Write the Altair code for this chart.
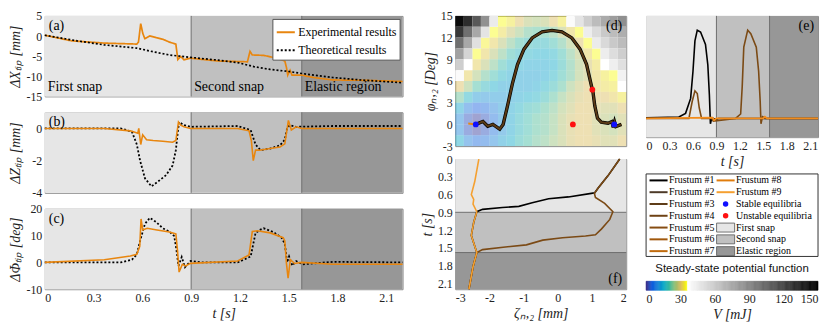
import altair as alt
import pandas as pd

SERIF = "Liberation Serif"
SANS = "Liberation Sans"

# ---------------- shared categories ----------------
region_names = ["First snap", "Second snap", "Elastic region"]
region_start = [0.0, 0.9, 1.58]
region_end = [0.9, 1.58, 2.2]
region_colors = ["#e6e6e6", "#c0c0c0", "#979797"]
snap_bounds = [0.9, 1.58]
t_ticks = [0, 0.3, 0.6, 0.9, 1.2, 1.5, 1.8, 2.1]
series_names = ["Experimental results", "Theoretical results"]

# ---------------- panel (a): Delta X tip ----------------
a_exp_t = [0, 0.166, 0.366, 0.566, 0.576, 0.59, 0.602, 0.615, 0.646, 0.686, 0.726, 0.766, 0.806, 0.812,
           0.818, 0.836, 0.856, 0.896, 1.066, 1.246, 1.262, 1.276, 1.346, 1.426, 1.476, 1.486, 1.494,
           1.508, 1.52, 1.58, 1.65, 1.77, 1.97, 2.2]
a_exp_v = [0.2, -1.2, -1.75, -2.0, -1.5, 3.1, 0.74, -0.65, 0.04, -0.4, -0.8, -1.5, -2.0, -3.9,
           -5.85, -5.1, -5.9, -5.5, -6.2, -6.4, -3.8, -4.7, -4.8, -5.5, -6.2, -7.8, -9.7,
           -8.5, -9.7, -9.7, -10.3, -10.9, -11.0, -11.3]
a_th_t = [0, 0.2, 0.366, 0.566, 0.666, 0.766, 0.896, 1.066, 1.186, 1.286, 1.386, 1.5, 1.58, 1.77, 1.97, 2.2]
a_th_v = [0.2, -1.2, -2.2, -3.0, -3.9, -4.7, -5.3, -6.0, -6.6, -7.6, -8.3, -8.8, -9.3, -10.3, -11.0, -11.6]

# ---------------- panel (b): Delta Z tip ----------------
b_exp_t = [0, 0.366, 0.526, 0.572, 0.578, 0.59, 0.602, 0.626, 0.666, 0.726, 0.786, 0.806, 0.822, 0.836,
           0.856, 0.896, 1.186, 1.256, 1.27, 1.282, 1.296, 1.32, 1.386, 1.446, 1.476, 1.498, 1.516,
           1.546, 1.58, 2.2]
b_exp_v = [0, 0, -0.15, -0.3, 0.0, -1.0, -0.4, -0.7, -0.75, -0.8, -0.86, -0.75, 0.4, 0.2,
           0.1, 0, 0, -0.15, -0.75, -2.0, -1.35, -1.35, -1.25, -1.15, -0.96, 0.5, -0.1,
           0.1, 0, 0]
b_th_t = [0, 0.466, 0.536, 0.566, 0.586, 0.616, 0.656, 0.696, 0.746, 0.786, 0.806, 0.818, 0.826, 0.856,
          0.896, 1.186, 1.266, 1.296, 1.326, 1.386, 1.446, 1.476, 1.49, 1.506, 1.546, 1.77, 2.2]
b_th_v = [0, 0, -0.2, -1.0, -2.0, -3.1, -3.6, -3.3, -2.9, -2.3, -1.35, -0.2, 0.4, 0.2,
          0.1, 0.15, -0.1, -1.0, -1.35, -1.25, -1.05, -0.7, 0, 0.2, 0.1, 0.15, 0.15]

# ---------------- panel (c): Delta Phi tip ----------------
c_exp_t = [0, 0.366, 0.526, 0.566, 0.584, 0.592, 0.602, 0.63, 0.69, 0.766, 0.806, 0.816, 0.826, 0.846,
           0.866, 0.896, 1.186, 1.256, 1.276, 1.306, 1.386, 1.466, 1.476, 1.486, 1.496, 1.51, 1.536,
           1.58, 1.77, 2.2]
c_exp_v = [0, 1.0, 2.4, 3.0, 6.0, 16.2, 12.1, 12.7, 12.1, 11.3, 10.6, 4.5, -3.6, -0.7,
           -1.3, -0.35, 0.5, 2.8, 11.5, 11.8, 11.0, 9.2, 8.0, -0.35, -5.9, 1.0, -0.4,
           0, -0.7, -0.7]
c_th_t = [0, 0.466, 0.536, 0.566, 0.586, 0.616, 0.646, 0.686, 0.726, 0.766, 0.796, 0.81, 0.822, 0.842,
          0.862, 0.896, 0.966, 1.186, 1.266, 1.296, 1.326, 1.346, 1.406, 1.456, 1.476, 1.49, 1.502,
          1.522, 1.546, 1.586, 1.77, 2.2]
c_th_v = [0, 0, 1.0, 3.0, 8.0, 14.4, 16.6, 15.0, 12.7, 11.5, 9.8, 4.5, -1.3, 2.0,
          -1.8, 0.5, 0, 0, 2.2, 11.0, 12.2, 12.7, 11.3, 9.2, 6.9, 0, 2.2,
          -1.2, 0.5, -0.7, 0.2, 0]

# ---------------- panel (d): potential map + trajectory ----------------
zeta_centers = [-2.875, -2.625, -2.375, -2.125, -1.875, -1.625, -1.375, -1.125, -0.875, -0.625,
                -0.375, -0.125, 0.125, 0.375, 0.625, 0.875, 1.125, 1.375, 1.625, 1.875]
phi_centers = [14.25, 12.75, 11.25, 9.75, 8.25, 6.75, 5.25, 3.75, 2.25, 0.75, -0.75, -2.25]
V_grid = [
    [145, 130, 110, 85, 45, 35, 33, 30, 27, 26, 27, 30, 33, 38, 48, 58, 66, 74, 80, 86],
    [125, 100, 75, 48, 35, 32, 28, 25, 22, 21, 21, 23, 27, 31, 35, 44, 52, 60, 66, 72],
    [100, 75, 50, 34, 31, 27, 23, 20, 18, 17, 17, 19, 22, 26, 30, 35, 45, 53, 60, 66],
    [78, 55, 35, 31, 27, 23, 19, 17, 16, 15, 15, 16, 19, 23, 27, 31, 35, 44, 51, 58],
    [58, 36, 31, 27, 23, 19, 16, 15, 14, 14, 14, 15, 18, 22, 26, 29, 32, 36, 43, 50],
    [38, 31, 26, 22, 19, 16, 14, 13, 13, 13, 14, 16, 19, 22, 26, 28, 31, 33, 35, 42],
    [30, 25, 20, 17, 15, 13, 13, 13, 13, 14, 16, 18, 21, 25, 28, 30, 31, 32, 33, 36],
    [22, 16, 12, 11, 12, 12, 13, 14, 15, 16, 18, 21, 24, 27, 29, 30, 30, 30, 31, 33],
    [14, 8, 5, 6, 9, 12, 14, 16, 18, 19, 21, 23, 26, 28, 30, 30, 29, 28, 28, 30],
    [10, 3, 1, 3, 7, 11, 14, 17, 19, 21, 22, 24, 27, 29, 30, 30, 28, 27, 26, 28],
    [10, 3, 1, 3, 7, 11, 14, 17, 19, 21, 22, 24, 27, 29, 30, 30, 28, 27, 26, 28],
    [15, 9, 6, 7, 10, 13, 15, 18, 20, 22, 23, 25, 27, 29, 30, 30, 29, 28, 28, 30],
]
traj_zeta = [-2.4, -2.19, -2.05, -1.9, -1.7, -1.6, -1.47, -1.33, -1.18, -0.99, -0.75, -0.46, -0.17,
             0.12, 0.41, 0.65, 0.84, 0.97, 1.03, 1.08, 1.16, 1.27, 1.47, 1.58, 1.62, 1.66, 1.70, 1.86]
traj_phi = [0, 0.4, -0.25, 0, -0.65, 0, 2.6, 5.6, 8.26, 10.4, 11.96, 12.8, 13.0,
            12.8, 11.96, 10.4, 8.3, 5.6, 4.4, 2.6, 0.85, 0.3, 0.17, 0.4, -0.4, 0.35, -0.3, 0.0]
start_zeta = [-2.62, -2.4]
start_phi = [0.14, 0.0]
stable_zeta = [-2.4, 1.65]
stable_phi = [0.0, 0.0]
unstable_zeta = [0.44, 1.01]
unstable_phi = [0.0, 4.8]

# ---------------- panel (e): energy-like traces ----------------
e1_t = [0, 0.42, 0.505, 0.57, 0.60, 0.625, 0.655, 0.697, 0.76, 0.79, 0.81, 0.823, 0.84, 0.886, 0.93, 2.2]
e1_v = [0.007, 0.017, 0.057, 0.225, 0.53, 0.87, 0.99, 0.97, 0.83, 0.6, 0.26, -0.06, 0.007, -0.01, 0, 0]
e2_t = [0, 0.548, 0.59, 0.625, 0.655, 0.68, 0.71, 0.84, 0.86, 1.145, 1.21, 1.23, 1.25, 1.3, 1.34, 1.41,
        1.44, 1.46, 1.47, 1.49, 1.53, 2.2]
e2_v = [0, 0, 0.19, 0.31, 0.28, 0.12, 0, 0, -0.03, 0, 0.05, 0.36, 0.8, 0.99, 0.95, 0.8,
        0.53, 0.19, -0.06, 0.02, 0, 0]
e9_t = [0, 0.85, 0.87, 0.9, 1.5, 1.52, 1.55, 2.2]
e9_v = [0, 0.01, -0.02, 0, 0, 0.02, 0, 0]

# ---------------- panel (f): zeta vs time ----------------
f1_t = [0, 0.28, 0.49, 0.57, 0.58, 0.64, 0.67, 0.74, 0.80, 0.82, 0.85, 0.89, 1.07, 1.29, 1.42, 1.58, 1.82, 2.2]
f1_z = [1.81, 1.47, 1.18, 1.08, 0.98, 0.31, -0.27, -0.75, -1.14, -1.62, -2.2, -2.37, -2.46, -2.53, -2.46,
        -2.37, -2.48, -2.6]
f2_t = [0, 0.28, 0.49, 0.58, 0.65, 0.75, 0.89, 1.02, 1.18, 1.28, 1.30, 1.33, 1.37, 1.45, 1.49, 1.53, 1.58,
        1.82, 2.2]
f2_z = [1.81, 1.47, 1.18, 1.07, 1.10, 1.37, 1.61, 1.52, 1.28, 1.10, 0.81, 0.14, -0.44, -0.92, -1.6, -2.2,
        -2.37, -2.48, -2.6]
f9_t = [0, 0.38, 0.6, 0.68, 0.76, 0.89, 1.07, 1.29, 1.42, 1.58, 1.82, 2.2]
f9_z = [-2.31, -2.43, -2.53, -2.46, -2.48, -2.37, -2.46, -2.53, -2.46, -2.37, -2.48, -2.6]

# ---------------- legend / colorbar ----------------
frustum_names = ["Frustum #1", "Frustum #2", "Frustum #3", "Frustum #4", "Frustum #5",
                 "Frustum #6", "Frustum #7", "Frustum #8", "Frustum #9"]
frustum_colors = ["#000000", "#4d3a28", "#5e3c18", "#6e4214", "#864c12", "#a0570c", "#c06a0c",
                  "#e07c0c", "#f5a030"]
equil_names = ["Stable equilibria", "Unstable equilibria"]
equil_colors = ["#1010ff", "#ff1010"]
V_ticks = [0, 30, 60, 90, 120, 150]
V_stops = [0, 5, 10, 15, 20, 25, 30, 35, 36, 150]
V_stop_colors = ["#352a87", "#0f5cdd", "#1481d6", "#06a7c6", "#38b99e", "#92bf73", "#d9ba56",
                 "#f9fb0e", "#ffffff", "#000000"]

ORANGE = "#E8860F"
BROWN = "#7b4a15"

# ---------------- layout sizes ----------------
W1, H1 = 360, 81
W2, H2 = 172, 131
W3, HE = 173, 122
HL = 95
LEG_TOP = 12

MINUS_FIX = "replace(datum.label, '\u2212', '-')"
T_LABEL = "datum.value == 0 ? '0' : format(datum.value, '.1f')"

regions_df = pd.DataFrame({"name": region_names, "start": region_start, "end": region_end})
bounds_df = pd.DataFrame({"b": snap_bounds})


def t_scale(rev=False):
    return alt.Scale(domain=[0, 2.2], nice=False, zero=False, reverse=rev)


def V_scale():
    return alt.Scale(domain=V_stops, range=V_stop_colors, interpolate="rgb")


def region_fill():
    return alt.Fill("name:N", scale=alt.Scale(domain=region_names, range=region_colors), legend=None)


def tag(label, x, y, align, baseline, color="black"):
    return alt.Chart(pd.DataFrame({"lab": [label]})).mark_text(
        align=align, baseline=baseline, font=SERIF, fontSize=14, color=color
    ).encode(x=alt.value(x), y=alt.value(y), text="lab:N")


def time_panel(xaxis_fn, yenc_fn, lines, label):
    reg = alt.Chart(regions_df).mark_rect().encode(
        x=alt.X("start:Q", scale=t_scale(), axis=xaxis_fn()), x2="end:Q", fill=region_fill())
    rules = alt.Chart(bounds_df).mark_rule(color="#6e6e6e", strokeWidth=1).encode(
        x=alt.X("b:Q", scale=t_scale(), axis=xaxis_fn()))
    layers = [reg, rules] + lines(xaxis_fn, yenc_fn) + [tag(label, 4, 3, "left", "top")]
    return alt.layer(*layers)


def no_axis():
    return None


def t_axis():
    return alt.Axis(values=t_ticks, labelExpr=T_LABEL, title="t [s]")


def simple_lines(t1, v1, t2, v2, yfn, xaxis_fn):
    df1 = pd.DataFrame({"t": t1, "v": v1})
    df2 = pd.DataFrame({"t": t2, "v": v2})
    l1 = alt.Chart(df1).mark_line(color=ORANGE, strokeWidth=1.6).encode(
        x=alt.X("t:Q", scale=t_scale(), axis=xaxis_fn()), y=yfn())
    l2 = alt.Chart(df2).mark_line(color="black", strokeWidth=1.8, strokeDash=[2, 2]).encode(
        x=alt.X("t:Q", scale=t_scale(), axis=xaxis_fn()), y=yfn())
    return [l2, l1]


# ----- (a)
def ya():
    return alt.Y("v:Q", scale=alt.Scale(domain=[-15, 5], nice=False),
                 axis=alt.Axis(values=[-15, -10, -5, 0, 5], labelExpr=MINUS_FIX,
                               title="ΔXₜᵢₚ [mm]", titleX=-22))


df_a = pd.concat([
    pd.DataFrame({"t": a_exp_t, "v": a_exp_v, "series": series_names[0]}),
    pd.DataFrame({"t": a_th_t, "v": a_th_v, "series": series_names[1]}),
])
leg_a = alt.Legend(orient="top-right", title=None, fillColor="white", strokeColor="#555",
                   padding=3, offset=3, labelFont=SERIF, labelFontSize=12, symbolType="stroke",
                   symbolStrokeWidth=2, symbolSize=330, rowPadding=1, labelOffset=2)


def a_lines(xaxis_fn, yfn):
    ln = alt.Chart(df_a).mark_line(strokeWidth=1.7).encode(
        x=alt.X("t:Q", scale=t_scale(), axis=xaxis_fn()), y=yfn(),
        color=alt.Color("series:N", scale=alt.Scale(domain=series_names, range=[ORANGE, "black"]),
                        legend=leg_a),
        strokeDash=alt.StrokeDash("series:N", scale=alt.Scale(domain=series_names, range=[[1, 0], [2, 2]]),
                                  legend=leg_a),
        order=alt.Order("series:N", sort="descending"),
    )
    txt = alt.Chart(regions_df).mark_text(align="left", baseline="bottom", dx=3, dy=-2, font=SERIF,
                                          fontSize=14, color="black").encode(
        x=alt.X("start:Q", scale=t_scale(), axis=xaxis_fn()), y=alt.value(H1), text="name:N")
    return [ln, txt]


pa = time_panel(no_axis, ya, a_lines, "(a)").properties(width=W1, height=H1)


# ----- (b)
def yb():
    return alt.Y("v:Q", scale=alt.Scale(domain=[-4, 1], nice=False),
                 axis=alt.Axis(values=[-4, -2, 0], labelExpr=MINUS_FIX, title="ΔZₜᵢₚ [mm]", titleX=-22))


pb = time_panel(no_axis, yb, lambda xf, yf: simple_lines(b_exp_t, b_exp_v, b_th_t, b_th_v, yf, xf),
                "(b)").properties(width=W1, height=H1)


# ----- (c)
def yc():
    return alt.Y("v:Q", scale=alt.Scale(domain=[-10, 20], nice=False),
                 axis=alt.Axis(values=[-10, 0, 10, 20], labelExpr=MINUS_FIX, title="ΔΦₜᵢₚ [deg]",
                               titleX=-22))


pc = time_panel(t_axis, yc, lambda xf, yf: simple_lines(c_exp_t, c_exp_v, c_th_t, c_th_v, yf, xf),
                "(c)").properties(width=W1, height=H1)

# ----- (d)
cells = []
for i, p in enumerate(phi_centers):
    for j, z in enumerate(zeta_centers):
        cells.append({"z0": z - 0.125, "z1": z + 0.125, "p0": p - 0.75, "p1": p + 0.75, "V": V_grid[i][j]})
cells_df = pd.DataFrame(cells)


def zx(axis):
    return alt.X("z0:Q", scale=alt.Scale(domain=[-3, 2], nice=False, zero=False), axis=axis)


def d_y():
    return alt.Axis(values=[-3, 0, 3, 6, 9, 12, 15], labelExpr=MINUS_FIX, title="φₙ,₂ [Deg]")


def phi_scale():
    return alt.Scale(domain=[-3, 15], nice=False, zero=False)


heat_lo = alt.Chart(cells_df).transform_filter("datum.V <= 35").mark_rect(opacity=0.45).encode(
    x=zx(None), x2="z1:Q",
    y=alt.Y("p0:Q", scale=phi_scale(), axis=d_y()), y2="p1:Q",
    color=alt.Color("V:Q", scale=V_scale(), legend=None))
heat_hi = alt.Chart(cells_df).transform_filter("datum.V > 35").mark_rect(opacity=1).encode(
    x=zx(None), x2="z1:Q",
    y=alt.Y("p0:Q", scale=phi_scale(), axis=d_y()), y2="p1:Q",
    color=alt.Color("V:Q", scale=V_scale(), legend=None))

traj_df = pd.DataFrame({"z0": traj_zeta, "p0": traj_phi, "i": list(range(len(traj_zeta)))})
start_df = pd.DataFrame({"z0": start_zeta, "p0": start_phi, "i": [0, 1]})
traj_outline = alt.Chart(traj_df).mark_line(color="black", strokeWidth=3.4).encode(
    x=zx(None), y=alt.Y("p0:Q", scale=phi_scale(), axis=d_y()), order="i:Q")
traj_line = alt.Chart(traj_df).mark_line(color="#5a3a16", strokeWidth=2.0).encode(
    x=zx(None), y=alt.Y("p0:Q", scale=phi_scale(), axis=d_y()), order="i:Q")
start_line = alt.Chart(start_df).mark_line(color=ORANGE, strokeWidth=2.0).encode(
    x=zx(None), y=alt.Y("p0:Q", scale=phi_scale(), axis=d_y()), order="i:Q")
stab_pts = alt.Chart(pd.DataFrame({"z0": stable_zeta, "p0": stable_phi})).mark_circle(
    size=34, color=equil_colors[0], opacity=1).encode(
    x=zx(None), y=alt.Y("p0:Q", scale=phi_scale(), axis=d_y()))
unst_pts = alt.Chart(pd.DataFrame({"z0": unstable_zeta, "p0": unstable_phi})).mark_circle(
    size=34, color=equil_colors[1], opacity=1).encode(
    x=zx(None), y=alt.Y("p0:Q", scale=phi_scale(), axis=d_y()))

pd_ = alt.layer(heat_lo, heat_hi, start_line, traj_outline, traj_line, stab_pts, unst_pts,
                tag("(d)", W2 - 4, 3, "right", "top")).properties(width=W2, height=H2)


# ----- (f)
def f_xaxis():
    return alt.Axis(values=[-3, -2, -1, 0, 1, 2], labelExpr=MINUS_FIX, title="ζₙ,₂ [mm]")


def f_yaxis():
    return alt.Axis(values=t_ticks, labelExpr=T_LABEL, title="t [s]")


def fx():
    return alt.X("z:Q", scale=alt.Scale(domain=[-3, 2], nice=False, zero=False), axis=f_xaxis())


f_reg = alt.Chart(regions_df).mark_rect().encode(
    y=alt.Y("start:Q", scale=t_scale(True), axis=f_yaxis()), y2="end:Q", fill=region_fill())
f_rules = alt.Chart(bounds_df).mark_rule(color="#6e6e6e", strokeWidth=1).encode(
    y=alt.Y("b:Q", scale=t_scale(True), axis=f_yaxis()))


def f_line(tt, zz, color, w):
    df = pd.DataFrame({"t": tt, "z": zz, "i": list(range(len(tt)))})
    return alt.Chart(df).mark_line(color=color, strokeWidth=w).encode(
        x=fx(), y=alt.Y("t:Q", scale=t_scale(True), axis=f_yaxis()), order="i:Q")


pf = alt.layer(f_reg, f_rules, f_line(f1_t, f1_z, frustum_colors[0], 1.6),
               f_line(f2_t, f2_z, BROWN, 1.6), f_line(f9_t, f9_z, frustum_colors[8], 1.6),
               tag("(f)", W2 - 4, H2 - 3, "right", "bottom")).properties(width=W2, height=H2)


# ----- (e)
def ey():
    return alt.Y("v:Q", scale=alt.Scale(domain=[-0.21, 1.15], nice=False, zero=False), axis=None)


e_reg = alt.Chart(regions_df).mark_rect().encode(
    x=alt.X("start:Q", scale=t_scale(), axis=t_axis()), x2="end:Q", fill=region_fill())
e_rules = alt.Chart(bounds_df).mark_rule(color="#6e6e6e", strokeWidth=1).encode(
    x=alt.X("b:Q", scale=t_scale(), axis=t_axis()))


def e_line(tt, vv, color, w):
    return alt.Chart(pd.DataFrame({"t": tt, "v": vv})).mark_line(color=color, strokeWidth=w).encode(
        x=alt.X("t:Q", scale=t_scale(), axis=t_axis()), y=ey())


# invisible spacer text mimicking the top tick-label overhang of the other columns
e_spacer = alt.Chart(pd.DataFrame({"lab": ["0"]})).mark_text(
    baseline="middle", fontSize=12, font=SERIF, opacity=0).encode(
    x=alt.value(W3 / 2), y=alt.value(0), text="lab:N")

pe = alt.layer(e_reg, e_rules, e_line(e1_t, e1_v, "black", 1.6), e_line(e2_t, e2_v, BROWN, 1.6),
               e_line(e9_t, e9_v, "#f28c1c", 1.8), e_spacer,
               tag("(e)", W3 - 4, 3, "right", "top")).properties(width=W3, height=HE)

# ----- legend box
leg_labels = frustum_names + equil_names + region_names
leg_colors = frustum_colors + equil_colors + region_colors
leg_kinds = ["line"] * len(frustum_names) + ["point"] * len(equil_names) + ["box"] * len(region_names)
rows = []
for k, (lab, col, kind) in enumerate(zip(leg_labels, leg_colors, leg_kinds)):
    c = 0 if k < 7 else 1
    r = k if k < 7 else k - 7
    x0 = 0.02 + c * 0.39
    x1 = x0 + 0.105
    rows.append({"label": lab, "color": col, "kind": kind, "row": r, "ya": r - 0.38, "yb": r + 0.38,
                 "x0": x0, "x1": x1, "xm": (x0 + x1) / 2, "xt": x1 + 0.008})
leg_df = pd.DataFrame(rows)
LX = alt.Scale(domain=[0, 1], nice=False, zero=False)
LY = alt.Scale(domain=[-1.56, 6.45], nice=False, zero=False, reverse=True)
base = alt.Chart(leg_df)
leg_frame = alt.Chart(pd.DataFrame({"k": [0]})).mark_rect(fill="white", stroke="#333", strokeWidth=1).encode(
    x=alt.value(0), x2=alt.value(W3), y=alt.value(LEG_TOP), y2=alt.value(HL))
leg_lines = base.transform_filter("datum.kind == 'line'").mark_rule(strokeWidth=2).encode(
    x=alt.X("x0:Q", scale=LX, axis=None), x2="x1:Q", y=alt.Y("row:Q", scale=LY, axis=None),
    color=alt.Color("color:N", scale=None))
leg_pts = base.transform_filter("datum.kind == 'point'").mark_circle(size=30, opacity=1).encode(
    x=alt.X("xm:Q", scale=LX, axis=None), y=alt.Y("row:Q", scale=LY, axis=None),
    color=alt.Color("color:N", scale=None))
leg_box = base.transform_filter("datum.kind == 'box'").mark_rect(stroke="#555", strokeWidth=0.8).encode(
    x=alt.X("x0:Q", scale=LX, axis=None), x2="x1:Q", y=alt.Y("ya:Q", scale=LY, axis=None), y2="yb:Q",
    fill=alt.Fill("color:N", scale=None))
leg_txt = base.mark_text(align="left", baseline="middle", font=SERIF, fontSize=10, color="black").encode(
    x=alt.X("xt:Q", scale=LX, axis=None), y=alt.Y("row:Q", scale=LY, axis=None), text="label:N")
legend_chart = alt.layer(leg_frame, leg_lines, leg_pts, leg_box, leg_txt).properties(
    width=W3, height=HL, view=alt.ViewBackground(stroke="transparent"))

# ----- colorbar
cb_df = pd.DataFrame({"V": list(range(150))})
cbar = alt.Chart(cb_df).transform_calculate(V2="datum.V + 1").mark_rect(strokeWidth=0.6).encode(
    x=alt.X("V:Q", scale=alt.Scale(domain=[0, 150], nice=False, zero=False),
            axis=alt.Axis(values=V_ticks, title="V [mJ]")),
    x2="V2:Q",
    color=alt.Color("V:Q", scale=V_scale(), legend=None),
    stroke=alt.Stroke("V:Q", scale=V_scale(), legend=None),
).properties(width=W3, height=9, view=alt.ViewBackground(stroke="transparent"),
             title=alt.TitleParams("Steady-state potential function", font=SANS, fontSize=11.5,
                                   fontWeight="normal", offset=7, color="#111"))

RES = dict(x="independent", y="independent", color="independent", fill="independent",
           stroke="independent", strokeDash="independent")

col1 = alt.vconcat(pa, pb, pc, spacing=16, bounds="flush").resolve_scale(**RES)
col2 = alt.vconcat(pd_, pf, spacing=13, bounds="flush").resolve_scale(**RES)
col3 = alt.vconcat(pe, legend_chart, cbar, spacing=25, bounds="flush").resolve_scale(**RES)

chart = alt.hconcat(col1, col2, col3, spacing=12, padding=0).resolve_scale(**RES).configure(
    background="white"
).configure_view(stroke="#8c8c8c", strokeWidth=1).configure_axis(
    labelFont=SERIF, titleFont=SERIF, labelFontSize=12, titleFontSize=14, titleFontWeight="normal",
    titleFontStyle="italic", ticks=False, domain=False, grid=False, labelColor="#222",
    titleColor="#222", labelPadding=3, titlePadding=3)

chart.save("out.html", embed_options={"renderer": "svg", "actions": False})
